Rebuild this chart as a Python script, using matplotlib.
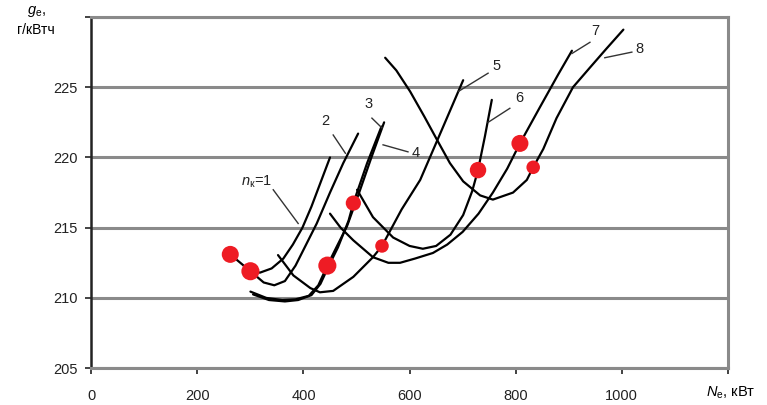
import matplotlib
matplotlib.use("Agg")
import matplotlib.pyplot as plt

plt.rcParams['font.family'] = ['Liberation Sans', 'DejaVu Sans']
plt.rcParams['mathtext.fontset'] = 'custom'
plt.rcParams['mathtext.rm'] = 'Liberation Sans'
plt.rcParams['mathtext.it'] = 'Liberation Sans:italic'

# curves g_e(N_e) for n_k = 1..8
n1_x = [262, 300, 318, 340, 362, 380, 398, 415, 432, 450]
n1_y = [213.1, 211.9, 211.8, 212.1, 212.8, 213.8, 215.0, 216.5, 218.2, 220.0]

n2_x = [300, 325, 345, 365, 385, 405, 425, 450, 475, 503]
n2_y = [211.9, 211.1, 210.9, 211.2, 212.3, 213.8, 215.3, 217.5, 219.6, 221.7]

n3_x = [300, 330, 360, 385, 410, 428, 445, 462, 482, 505, 528, 552]
n3_y = [210.45, 210.0, 209.85, 209.9, 210.15, 210.9, 212.3, 213.6, 215.1, 217.5, 220.0, 222.5]

n4_x = [305, 335, 365, 390, 415, 432, 448, 465, 485, 494, 520, 547]
n4_y = [210.25, 209.85, 209.75, 209.85, 210.2, 211.0, 212.3, 213.6, 215.5, 216.75, 219.6, 222.2]

n5_x = [352, 381, 413, 431, 456, 494, 531, 548, 585, 620, 660, 701]
n5_y = [213.05, 211.6, 210.7, 210.4, 210.5, 211.5, 212.9, 213.7, 216.3, 218.4, 221.9, 225.5]

n6_x = [501, 531, 569, 600, 625, 650, 677, 701, 718, 729, 742, 755]
n6_y = [217.7, 215.75, 214.3, 213.7, 213.5, 213.7, 214.5, 215.9, 217.6, 219.1, 221.5, 224.1]

n7_x = [450, 470, 494, 531, 560, 582, 610, 644, 671, 700, 730, 757, 784, 808, 846, 880, 906]
n7_y = [216.0, 215.0, 214.1, 212.9, 212.5, 212.5, 212.8, 213.2, 213.8, 214.7, 216.0, 217.5, 219.2, 221.0, 223.6, 225.9, 227.6]

n8_x = [554, 575, 601, 628, 654, 676, 701, 733, 757, 795, 821, 833, 852, 877, 908, 940, 970, 1003]
n8_y = [227.1, 226.2, 224.7, 222.9, 221.1, 219.6, 218.3, 217.3, 217.0, 217.5, 218.4, 219.3, 220.6, 222.8, 225.0, 226.4, 227.7, 229.1]

curves_x = [n1_x, n2_x, n3_x, n4_x, n5_x, n6_x, n7_x, n8_x]
curves_y = [n1_y, n2_y, n3_y, n4_y, n5_y, n6_y, n7_y, n8_y]

# red marker points
dot_x = [262, 300, 445, 494, 548, 729, 808, 833]
dot_y = [213.1, 211.9, 212.3, 216.75, 213.7, 219.1, 221.0, 219.3]
dot_s = [150, 170, 170, 120, 95, 140, 150, 95]

# curve labels: text, text position, leader line start -> end
lab_text = ["$n_{\\rm к}$=1", "2", "3", "4", "5", "6", "7", "8"]
lab_x = [312, 441, 522, 611, 763, 806, 950, 1034]
lab_y = [218.3, 222.6, 223.8, 220.3, 226.5, 224.2, 229.0, 227.7]
lead_x0 = [343, 456, 529, 597, 748, 789, 940, 1019]
lead_y0 = [217.7, 221.6, 222.8, 220.4, 226.0, 223.5, 228.2, 227.5]
lead_x1 = [390, 479, 548, 550, 692, 748, 906, 968]
lead_y1 = [215.3, 220.3, 222.1, 220.9, 224.7, 222.5, 227.4, 227.1]

xticks = [0, 200, 400, 600, 800, 1000, 1200]
xtick_labels = ["0", "200", "400", "600", "800", "1000", ""]
yticks = [205, 210, 215, 220, 225, 230]
ytick_labels = ["205", "210", "215", "220", "225", ""]

fig = plt.figure(figsize=(7.67, 4.05), dpi=100)
ax = fig.add_axes([0.119, 0.091, 0.83, 0.867])

for i in range(len(curves_x)):
    ax.plot(curves_x[i], curves_y[i], color="black", lw=1.6, solid_capstyle="round",
            solid_joinstyle="round", zorder=3)

for i in range(len(lab_text)):
    ax.plot([lead_x0[i], lead_x1[i]], [lead_y0[i], lead_y1[i]], color="#333333", lw=1.0, zorder=3)
    ax.text(lab_x[i], lab_y[i], lab_text[i], fontsize=10.5, ha="center", va="center", color="#222222")

ax.scatter(dot_x, dot_y, s=dot_s, color="#ee1c24", zorder=5, linewidths=0)

ax.set_xlim(0, 1200)
ax.set_ylim(205, 230)
ax.set_xticks(xticks)
ax.set_xticklabels(xtick_labels)
ax.set_yticks(yticks)
ax.set_yticklabels(ytick_labels)
ax.tick_params(labelsize=10.5, length=4, width=1.2, colors="#222222")
ax.tick_params(axis="x", pad=11)
ax.tick_params(axis="y", pad=6)
ax.yaxis.grid(True, color="#8a8a8a", lw=2.2, zorder=0)
ax.set_axisbelow(True)

for side in ["top", "right", "bottom"]:
    ax.spines[side].set_color("#8a8a8a")
    ax.spines[side].set_linewidth(2.2)
ax.spines["left"].set_color("#222222")
ax.spines["left"].set_linewidth(1.8)

fig.text(0.047, 0.972, "$g_{\\rm e},$", fontsize=10.5, ha="center", va="center")
fig.text(0.047, 0.925, "г/кВтч", fontsize=10, ha="center", va="center")
fig.text(0.953, 0.03, "$N_{\\rm e}$, кВт", fontsize=10.5, ha="center", va="center")

fig.savefig("out.png", dpi=100)
